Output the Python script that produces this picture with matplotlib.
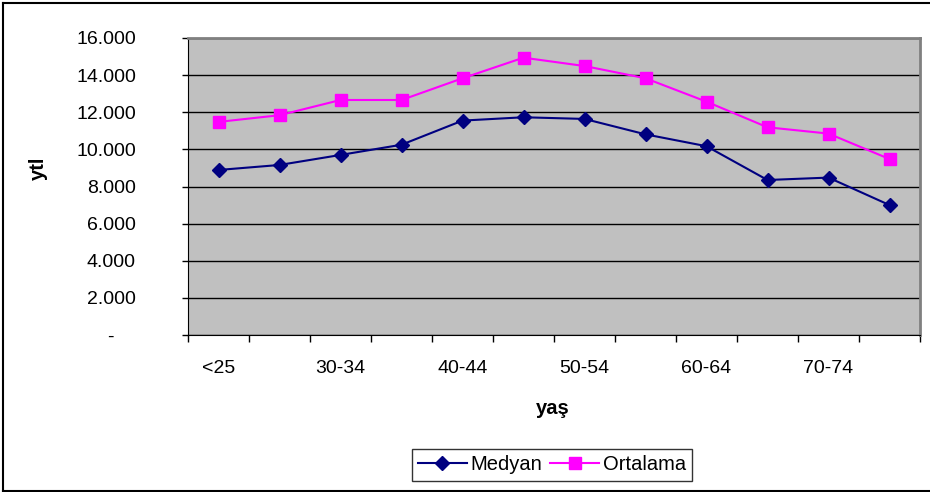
import matplotlib.pyplot as plt
from matplotlib.lines import Line2D
from matplotlib.ticker import FuncFormatter

plt.rcParams['font.family'] = ['Liberation Sans', 'DejaVu Sans']

age_groups = ['<25', '25-29', '30-34', '35-39', '40-44', '45-49',
              '50-54', '55-59', '60-64', '65-69', '70-74', '75+']
medyan = [8890, 9160, 9700, 10250, 11550, 11730, 11640, 10810, 10170, 8350, 8480, 7000]
ortalama = [11480, 11840, 12660, 12660, 13830, 14940, 14490, 13830, 12570, 11190, 10850, 9480]

W, H = 930, 492
fig = plt.figure(figsize=(W / 100, H / 100), dpi=100)
ax = fig.add_axes([188 / W, 1 - 335 / H, (920 - 188) / W, (335 - 38) / H])
ax.set_facecolor('#C0C0C0')

x = list(range(len(age_groups)))
ax.plot(x, medyan, color='#000080', linewidth=1.5, marker='D', markersize=7,
        label='Medyan')
ax.plot(x, ortalama, color='#FF00FF', linewidth=1.5, marker='s', markersize=8,
        label='Ortalama')

ax.set_xlim(-0.5, len(age_groups) - 0.5)
ax.set_ylim(0, 16000)
ax.set_yticks(range(0, 16001, 2000))
ax.yaxis.set_major_formatter(FuncFormatter(
    lambda v, p: '-    ' if v == 0 else f'{int(v):,}'.replace(',', '.')))
ax.grid(axis='y', color='black', linewidth=1)
ax.set_axisbelow(True)

# category labels every other group, tick marks between groups
ax.set_xticks(x[::2])
ax.set_xticklabels(age_groups[::2])
ax.tick_params(axis='x', length=0, pad=18, labelsize=14)
ax.set_xticks([i - 0.5 for i in range(len(age_groups) + 1)], minor=True)
ax.tick_params(axis='x', which='minor', direction='out', length=5, width=1, color='black')
ax.tick_params(axis='y', direction='out', length=4.5, width=1, pad=33, labelsize=14)

for s in ['top', 'right']:
    ax.spines[s].set_color('#808080')
    ax.spines[s].set_linewidth(2)
ax.spines['left'].set_color('black')
ax.spines['bottom'].set_color('black')

fig.text(38 / W, 1 - 168 / H, 'ytl', rotation=90, fontsize=14.5, fontweight='bold',
         ha='center', va='center')
fig.text(553 / W, 1 - 408 / H, 'yaş', fontsize=14.5, fontweight='bold',
         ha='center', va='center')

handles = [Line2D([], [], color='#000080', marker='D', markersize=7, linewidth=1.5),
           Line2D([], [], color='#FF00FF', marker='s', markersize=8, linewidth=1.5)]
leg = fig.legend(handles, ['Medyan', 'Ortalama'], loc='center',
                 bbox_to_anchor=(552 / W, 1 - 465 / H), ncol=2, fontsize=14.5,
                 frameon=True, fancybox=False, edgecolor='black',
                 handlelength=2.4, handletextpad=0.2, columnspacing=0.4,
                 borderpad=0.3)
leg.get_frame().set_linewidth(1)

# outer chart border
fig.add_artist(Line2D([3 / W, 3 / W], [1 - 3 / H, 1 - 491 / H], color='black', linewidth=1.5))
fig.add_artist(Line2D([3 / W, 1], [1 - 3 / H, 1 - 3 / H], color='black', linewidth=1.5))
fig.add_artist(Line2D([3 / W, 1], [1 - 491 / H, 1 - 491 / H], color='black', linewidth=1.5))

fig.savefig('out.png', dpi=100)
